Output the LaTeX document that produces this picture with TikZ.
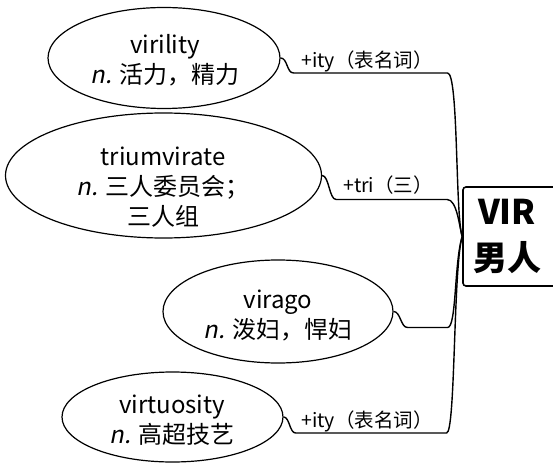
\documentclass[tikz,border=0pt]{standalone}
\usepackage{fontspec}
\setmainfont{Noto Sans CJK SC}[AutoFakeSlant=0.2]
\usetikzlibrary{shapes.geometric}
\tikzset{
    word/.style = {ellipse, draw=black, line width=1.2pt, inner sep=0pt},
    rootbox/.style = {rectangle, rounded corners=3pt, draw=black, line width=1.6pt, inner sep=0pt},
    wordtext/.style = {anchor=center, align=center, inner sep=0pt, font=\fontsize{24}{30}\selectfont},
    affix/.style = {anchor=base, inner sep=0pt, font=\fontsize{19.5}{22}\selectfont},
    branch/.style = {line width=1.4pt}
}

\begin{document}
\begin{tikzpicture}[x=1pt, y=-1pt]
	\useasboundingbox (0,0) rectangle (553,465);
	\clip (0,0) rectangle (553,465);

	\node[rootbox, minimum width=110pt, minimum height=99pt](N0) at (518,236.5){} node[anchor=center, align=center, inner sep=0pt, font=\fontsize{34}{46}\selectfont\bfseries] at (507,236.5){VIR\\男人};

	\node[word, minimum width=232pt, minimum height=101pt](N1) at (164,58){} node[wordtext] at (165,60){virility\\\textit{n.} 活力，精力};
	\node[word, minimum width=316pt, minimum height=125pt](N2) at (163.5,175.5){} node[wordtext] at (163,187){triumvirate\\\textit{n.} 三人委员会；\\三人组};
	\node[word, minimum width=230pt, minimum height=103pt](N3) at (278,311.5){} node[wordtext] at (278,315){virago\\\textit{n.} 泼妇，悍妇};
	\node[word, minimum width=221pt, minimum height=90pt](N4) at (172.5,417){} node[wordtext] at (172,420){virtuosity\\\textit{n.} 高超技艺};

	% branches into the root
	\draw[branch] (N1.east) .. controls +(7,0) and +(-7,0) .. ++(13,15) -- ++(154,0) .. controls +(11,0) and +(-7,-21) .. (N0.west);
	\draw[branch] (N2.east) .. controls +(7,0) and +(-7,0) .. ++(14,24) -- ++(111,0) .. controls +(10,0) and +(-3,-10) .. (N0.west);
	\draw[branch] (N3.east) .. controls +(7,0) and +(-7,0) .. ++(14,16) -- ++(40,0) .. controls +(9,0) and +(-8,25) .. (N0.west);
	\draw[branch] (N4.east) .. controls +(6,0) and +(-6,0) .. ++(12,16) -- ++(151,0) .. controls +(9,0) and +(-9,30) .. (N0.west);

	\node[affix] at (367,68){+ity（表名词）};
	\node[affix] at (388,192){+tri（三）};
	\node[affix] at (367,427){+ity（表名词）};
\end{tikzpicture}
\end{document}
